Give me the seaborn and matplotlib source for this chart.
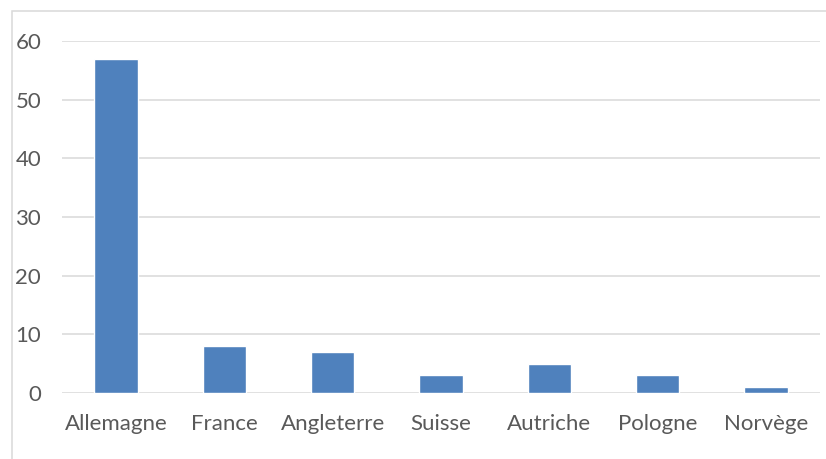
import matplotlib
matplotlib.use("Agg")
import matplotlib.pyplot as plt
import seaborn as sns
import pandas as pd

# data
pays = ["Allemagne", "France", "Angleterre", "Suisse", "Autriche", "Pologne", "Norvège"]
valeurs = [57, 8, 7, 3, 5, 3, 1]

df = pd.DataFrame({"pays": pays, "valeur": valeurs})

sns.set_theme(style="white")
plt.rcParams["font.family"] = ["Lato", "DejaVu Sans"]

fig = plt.figure(figsize=(8.26, 4.59), dpi=100)
ax = fig.add_axes([62 / 826, 1 - 393 / 459, 758 / 826, 352 / 459])

sns.barplot(data=df, x="pays", y="valeur", color="#4F81BD", saturation=1,
            width=0.4, ax=ax, zorder=3)

ax.set_ylim(0, 60)
ax.set_yticks(range(0, 61, 10))
ax.grid(axis="y", color="#D9D9D9", linewidth=1.1, zorder=0)
ax.set_xlabel("")
ax.set_ylabel("")
for s in ax.spines.values():
    s.set_visible(False)
ax.tick_params(axis="both", length=0, labelsize=16, labelcolor="#595959")
ax.tick_params(axis="x", pad=15)
ax.tick_params(axis="y", pad=15)

# chart frame (left and top edges visible)
fig.patches.append(plt.Rectangle((12 / 826, -0.1), 1.2, 1 - 11 / 459 + 0.1,
                                 transform=fig.transFigure, fill=False,
                                 edgecolor="#D9D9D9", linewidth=1.1))

fig.savefig("out.png", dpi=100)
